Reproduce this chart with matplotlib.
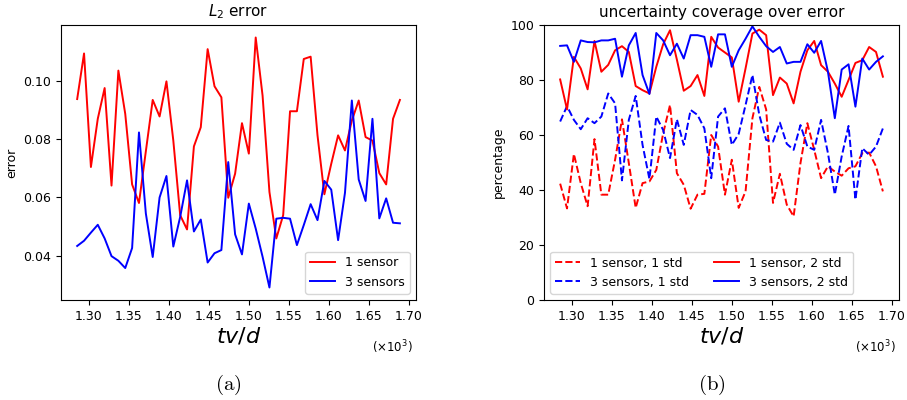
import numpy as np
import matplotlib
matplotlib.use('Agg')
import matplotlib.pyplot as plt

plt.rcParams['mathtext.fontset'] = 'dejavusans'
plt.rcParams['font.size'] = 9

# time axis (tv/d, in units of 1e3)
t = np.linspace(1.2854, 1.689, 48)

# L2 error
err_1 = [0.0939, 0.1096, 0.0705, 0.0871, 0.0977, 0.0641, 0.1037, 0.0888, 0.0645, 0.0581,
         0.0759, 0.0936, 0.0879, 0.1000, 0.0796, 0.0539, 0.0490, 0.0776, 0.0842, 0.1111,
         0.0983, 0.0945, 0.0599, 0.0682, 0.0856, 0.0751, 0.1151, 0.0951, 0.0619, 0.0459,
         0.0539, 0.0897, 0.0897, 0.1077, 0.1085, 0.0814, 0.0611, 0.0716, 0.0814, 0.0762,
         0.0865, 0.0934, 0.0808, 0.0796, 0.0684, 0.0645, 0.0871, 0.0936]
err_3 = [0.0433, 0.0451, 0.0479, 0.0506, 0.0459, 0.0398, 0.0382, 0.0357, 0.0426, 0.0824,
         0.0545, 0.0395, 0.0600, 0.0674, 0.0431, 0.0533, 0.0659, 0.0483, 0.0524, 0.0376,
         0.0408, 0.0419, 0.0722, 0.0473, 0.0404, 0.0579, 0.0493, 0.0396, 0.0290, 0.0527,
         0.0530, 0.0527, 0.0436, 0.0505, 0.0577, 0.0522, 0.0657, 0.0627, 0.0453, 0.0616,
         0.0934, 0.0662, 0.0588, 0.0871, 0.0528, 0.0597, 0.0513, 0.0511]

# coverage (%)
cov_1_1std = [42.3, 33.3, 53.1, 42.5, 34.1, 58.5, 38.3, 38.3, 51.0, 65.7,
              49.8, 33.5, 42.5, 43.1, 47.3, 60.6, 70.9, 46.1, 41.9, 33.2,
              38.3, 38.6, 60.0, 55.8, 38.3, 51.0, 33.5, 39.5, 66.1, 77.5,
              69.3, 35.3, 45.9, 34.7, 30.4, 49.8, 64.3, 54.6, 44.3, 48.6,
              46.7, 45.2, 47.9, 48.6, 53.4, 53.6, 48.6, 39.5]
cov_3_1std = [64.9, 70.5, 65.5, 62.1, 66.1, 64.3, 66.7, 75.1, 71.5, 43.5,
              65.5, 74.2, 56.4, 44.0, 66.7, 61.8, 51.6, 65.7, 56.4, 69.1,
              67.3, 62.4, 44.3, 66.7, 69.7, 56.4, 60.4, 70.9, 81.8, 67.3,
              58.2, 57.6, 64.5, 56.8, 54.6, 63.6, 55.8, 54.6, 65.5, 53.4,
              38.3, 52.2, 63.3, 36.5, 55.2, 52.8, 55.8, 62.4]
cov_1_2std = [80.2, 69.3, 88.4, 84.2, 76.6, 94.2, 83.0, 85.5, 90.8, 92.3,
              90.2, 77.8, 76.3, 75.1, 84.8, 93.0, 98.1, 87.4, 76.1, 77.8,
              81.8, 74.2, 95.7, 91.8, 90.0, 88.2, 72.1, 84.2, 96.9, 98.3,
              96.3, 74.5, 80.9, 78.7, 71.5, 83.0, 90.8, 94.2, 85.4, 83.0,
              78.7, 73.9, 80.0, 86.2, 87.2, 92.0, 90.2, 81.2]
cov_3_2std = [92.4, 92.6, 86.6, 94.4, 93.8, 93.7, 94.4, 94.4, 95.0, 81.2,
              92.6, 97.1, 81.8, 74.9, 97.1, 94.4, 89.0, 93.2, 87.8, 96.3,
              96.3, 95.7, 84.8, 96.6, 96.6, 84.8, 90.8, 95.0, 99.5, 95.7,
              92.3, 90.2, 92.0, 86.0, 86.6, 86.6, 93.0, 89.9, 94.2, 83.0,
              66.1, 83.8, 85.7, 70.3, 87.8, 83.8, 86.6, 88.6]

xticks = [1.30, 1.35, 1.40, 1.45, 1.50, 1.55, 1.60, 1.65, 1.70]

fig = plt.figure(figsize=(9.07, 4.0), dpi=100)
ax1 = fig.add_axes([0.0673, 0.25, 0.3914, 0.6875])
ax2 = fig.add_axes([0.5998, 0.25, 0.3914, 0.6875])

ax1.plot(t, err_1, 'r', lw=1.4, label='1 sensor')
ax1.plot(t, err_3, 'b', lw=1.4, label='3 sensors')
ax1.set_title('$L_2$ error', fontsize=11)
ax1.set_ylabel('error')
ax1.legend(loc='lower right')

ax2.plot(t, cov_1_1std, 'r--', lw=1.4, label='1 sensor, 1 std')
ax2.plot(t, cov_3_1std, 'b--', lw=1.4, label='3 sensors, 1 std')
ax2.plot(t, cov_1_2std, 'r', lw=1.4, label='1 sensor, 2 std')
ax2.plot(t, cov_3_2std, 'b', lw=1.4, label='3 sensors, 2 std')
ax2.set_title('uncertainty coverage over error', fontsize=11)
ax2.set_ylabel('percentage')
ax2.set_ylim(0, 100)
ax2.legend(loc='lower left', ncol=2)

for ax in (ax1, ax2):
    ax.set_xticks(xticks)
    ax.set_xticklabels(['%.2f' % v for v in xticks])
    ax.set_xlabel('$tv/d$', fontsize=16, labelpad=2)
    ax.text(0.99, -0.14, r'($\times10^3$)', transform=ax.transAxes,
            ha='right', va='top', fontsize=8.5)

plt.rcParams['mathtext.fontset'] = 'cm'
fig.text(228 / 907, 1 - 385 / 400, r'$\mathrm{(a)}$', ha='center', va='center', fontsize=15)
fig.text(712 / 907, 1 - 385 / 400, r'$\mathrm{(b)}$', ha='center', va='center', fontsize=15)

fig.savefig('out.png', dpi=100)
